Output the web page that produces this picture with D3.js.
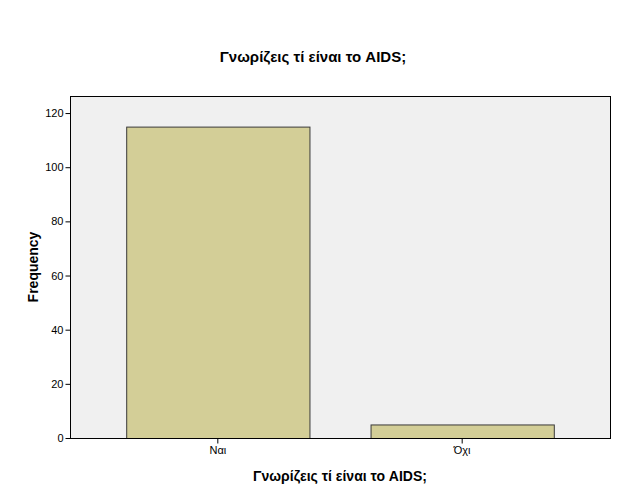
<!DOCTYPE html>
<html><head><meta charset="utf-8">
<script src="https://cdn.jsdelivr.net/npm/d3@7"></script>
<style>body{margin:0;background:#fff;} text{font-family:"Liberation Sans",Arial,sans-serif;}</style>
</head><body>
<svg id="c" width="627" height="502"></svg>
<script>
const categories = ["Ναι", "Όχι"];
const values = [115, 5];
const yTicks = [0, 20, 40, 60, 80, 100, 120];
const title = "Γνωρίζεις τί είναι το AIDS;";
const xTitle = "Γνωρίζεις τί είναι το AIDS;";
const yTitle = "Frequency";

const svg = d3.select("#c");
const L = 70, R = 610, T = 96, B = 438;
const x = d3.scaleBand().domain(categories).range([L, R]).paddingInner(0.25).paddingOuter(0.23);
const y = d3.scaleLinear().domain([0, 126.3]).range([B, T]);

svg.append("rect").attr("x", L).attr("y", T).attr("width", R - L).attr("height", B - T)
  .attr("fill", "#f0f0f0").attr("stroke", "#000").attr("stroke-width", 1).attr("shape-rendering", "crispEdges");

svg.selectAll(".bar").data(values).enter().append("rect")
  .attr("x", (d, i) => x(categories[i]) + 0.5)
  .attr("y", d => y(d) + 0.5)
  .attr("width", x.bandwidth())
  .attr("height", d => B - y(d))
  .attr("fill", "#d3ce97").attr("stroke", "#3a3a3a").attr("stroke-width", 1);

const ya = svg.append("g").attr("transform", `translate(${L + 0.5},0)`)
  .call(d3.axisLeft(y).tickValues(yTicks).tickSize(5).tickPadding(2).tickFormat(d3.format("d")));
ya.select(".domain").remove();
ya.selectAll("line").attr("stroke", "#000");
ya.selectAll("text").attr("font-size", 11).attr("fill", "#000").attr("font-family", "Liberation Sans, Arial, sans-serif");

const xa = svg.append("g").attr("transform", `translate(0,${B + 0.5})`)
  .call(d3.axisBottom(x).tickSize(5).tickPadding(3));
xa.select(".domain").remove();
xa.selectAll("line").attr("stroke", "#000");
xa.selectAll("text").attr("font-size", 11).attr("fill", "#000").attr("font-family", "Liberation Sans, Arial, sans-serif");

svg.append("line").attr("x1", L).attr("x2", R).attr("y1", B + 0.5).attr("y2", B + 0.5).attr("stroke", "#000");

svg.append("text").attr("x", 313).attr("y", 62).attr("text-anchor", "middle")
  .attr("font-size", 15).attr("font-weight", "bold").text(title);
svg.append("text").attr("x", 340).attr("y", 481).attr("text-anchor", "middle")
  .attr("font-size", 14).attr("font-weight", "bold").text(xTitle);
svg.append("text").attr("transform", `translate(38,${(T + B) / 2}) rotate(-90)`).attr("text-anchor", "middle")
  .attr("font-size", 14).attr("font-weight", "bold").text(yTitle);
</script>
</body></html>
